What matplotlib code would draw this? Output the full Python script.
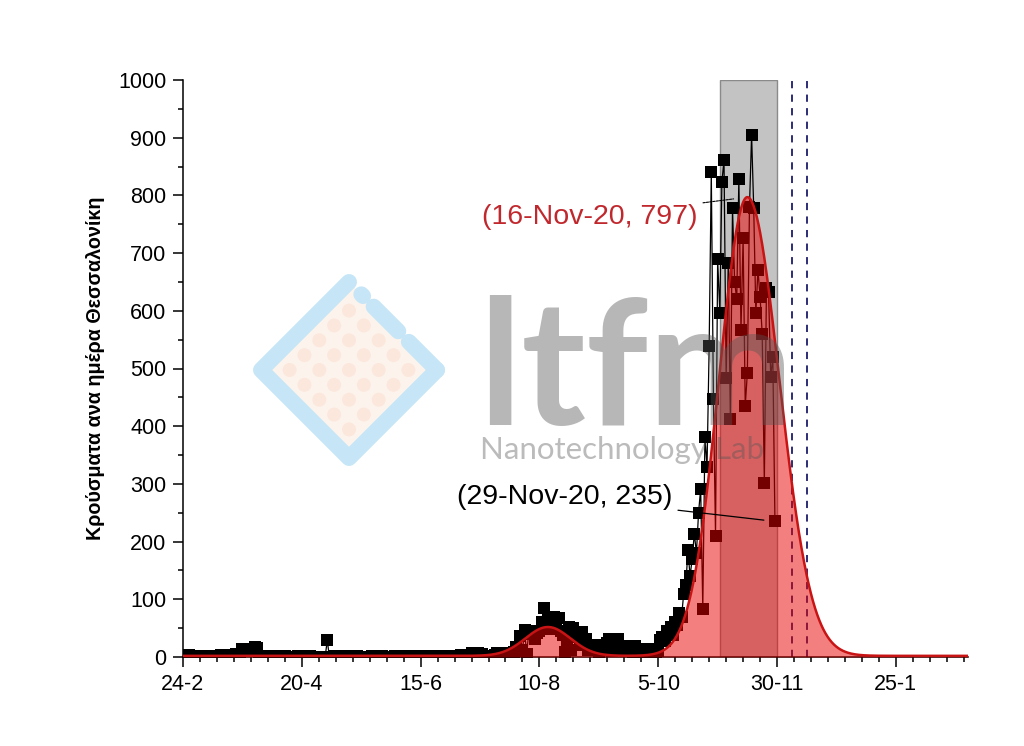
import numpy as np
import pandas as pd
import matplotlib
matplotlib.use('Agg')
import matplotlib.pyplot as plt
from matplotlib.patches import Polygon, Circle
from matplotlib.ticker import MultipleLocator

plt.rcParams['font.family'] = ['Liberation Sans', 'DejaVu Sans']

start = pd.Timestamp('2020-02-24')

# daily cases, Thessaloniki, 24 Feb -> 29 Nov 2020 (one value per day)
cases = (
    [2, 1, 2, 3, 2, 1, 2, 2, 0, 1, 0, 0, 1, 0, 1, 0, 1, 0,
     3, 2, 3, 4, 2, 3, 3, 6, 5, 6, 14, 12, 13, 14, 11, 13, 17, 16]
    + [1, 0, 0, 1, 0, 0, 0, 1, 0, 0, 0, 0, 1, 0, 0, 0, 0, 0, 1, 0,
       0, 0, 0, 0, 1, 0, 0, 0, 0, 0, 0, 0]
    + [29]
    + [0, 0, 1, 0, 0, 0, 0, 0, 1, 0, 0, 0, 0, 1, 0, 0, 0, 0, 0, 0,
       1, 0, 0, 0, 0, 1, 0, 0, 0, 0, 0, 1, 0, 0, 0, 0, 1, 0, 0, 1, 0, 1]
    + [1, 0, 1, 1, 0, 1, 1, 2, 1, 1, 1, 2, 1, 1, 2, 1, 2, 2, 1, 2]
    + [3, 2, 3, 2, 3, 7, 5, 6, 7, 4, 6, 2, 1, 2, 1, 2, 3]
    + [7, 3, 6, 7, 2, 5, 4, 3, 8, 17, 10, 36, 12, 46]
    + [5, 45, 40, 44, 32, 42, 45, 60, 85, 55, 69, 48, 66, 69, 52, 68, 45, 38]
    + [8, 30, 52, 12, 50, 35, 43, 20, 43, 25, 31, 12, 18, 15, 20, 18, 8, 16,
       12, 20, 25, 31, 10, 30, 22, 31, 15, 12]
    + [14, 10, 19, 17, 8, 19, 12, 10, 14, 9, 13, 14, 6, 12, 10, 8, 11]
    + [30, 35, 28, 45, 40, 52, 38, 60, 55, 76, 70, 110, 125, 185, 140, 170,
       214, 180, 250, 292, 83, 382, 330, 539, 840, 448, 209, 690, 596, 824,
       861, 483, 683, 412, 779, 650, 620, 828, 567, 726, 435, 492, 780, 905,
       778, 596, 671, 624, 560, 301, 640, 633, 486, 520, 235]
)

# BiGaussian peaks fitted in the original
fit_offset = 2
fit_centre = [172, 266]
fit_height = [50, 795]
fit_sig_left = [10.6, 13.3]
fit_sig_right = [10.6, 15.0]

tick_dates = ['2020-02-24', '2020-04-20', '2020-06-15', '2020-08-10',
              '2020-10-05', '2020-11-30', '2021-01-25']
lockdown = ['2020-11-03', '2020-11-30']
marks = ['2020-12-07', '2020-12-14']
peak_note = ('2020-11-16', 797)
last_note = ('2020-11-29', 235)


def day(s):
    return (pd.Timestamp(s) - start).days


days = np.arange(len(cases))
xfit = np.linspace(0, 370, 1500)
yfit = np.full_like(xfit, fit_offset, dtype=float)
for c, h, sl, sr in zip(fit_centre, fit_height, fit_sig_left, fit_sig_right):
    sig = np.where(xfit < c, sl, sr)
    yfit += h * np.exp(-(xfit - c) ** 2 / (2 * sig ** 2))

fig = plt.figure(figsize=(10.24, 7.46), dpi=100)
ax = fig.add_axes([183 / 1024, 89 / 746, 785 / 1024, 577 / 746])

ax.axvspan(day(lockdown[0]), day(lockdown[1]), facecolor='#c3c3c3',
           edgecolor='#8a8a8a', lw=1, zorder=0)
for m in marks:
    ax.axvline(day(m), color='#1c1c6b', lw=1.3, ls=(0, (4, 3.5)), zorder=1)

ax.plot(days, cases, color='black', lw=0.9, marker='s', ms=8, mew=0, zorder=2)
ax.fill_between(xfit, 0, yfit, color=(0.92, 0, 0), alpha=0.5, lw=0, zorder=3)
ax.plot(xfit, yfit, color='#c81414', lw=1.8, zorder=4)

pd_, pv = peak_note
ax.annotate('(%s, %d)' % (pd.Timestamp(pd_).strftime('%d-%b-%y'), pv),
            xy=(day(pd_), pv), xytext=(242.5, 762), ha='right', va='center',
            fontsize=20.5, color='#c0282d', zorder=6,
            arrowprops=dict(arrowstyle='-', color='black', lw=0.8,
                            ls=(0, (2, 1)), shrinkA=2, shrinkB=10))
ld, lv = last_note
ax.annotate('(%s, %d)' % (pd.Timestamp(ld).strftime('%d-%b-%y'), lv),
            xy=(day(ld), lv), xytext=(230.7, 277), ha='right', va='center',
            fontsize=20.5, color='black', zorder=6,
            arrowprops=dict(arrowstyle='-', color='black', lw=0.9,
                            shrinkA=2, shrinkB=8))

ax.set_xlim(0, 370)
ax.set_ylim(0, 1000)
ticks = pd.to_datetime(tick_dates)
ax.set_xticks([day(t) for t in ticks])
ax.set_xticklabels(['%d-%d' % (t.day, t.month) for t in ticks])
ax.xaxis.set_minor_locator(MultipleLocator(8))
ax.yaxis.set_major_locator(MultipleLocator(100))
ax.yaxis.set_minor_locator(MultipleLocator(50))
for s in ['top', 'right']:
    ax.spines[s].set_visible(False)
for s in ['left', 'bottom']:
    ax.spines[s].set_linewidth(1.1)
ax.tick_params(which='major', length=7, width=1.1, labelsize=15.5, pad=5)
ax.tick_params(which='minor', length=3.5, width=1.1)
ax.set_ylabel('Κρούσματα ανα ημέρα Θεσσαλονίκη', fontsize=14.2, fontweight='bold')
ax.yaxis.set_label_coords(-0.099, 0.5)

# watermark, drawn in pixel coordinates on top
wm = fig.add_axes([0, 0, 1, 1], zorder=5)
wm.set_xlim(0, 1024)
wm.set_ylim(746, 0)
wm.axis('off')
cx, cy, r = 349, 370, 88
wm.add_patch(Polygon([(cx, cy - r), (cx + r, cy), (cx, cy + r), (cx - r, cy)],
                     closed=True, facecolor='#fdf2ea', edgecolor='none', alpha=0.85))
for i in range(-3, 4):
    for j in range(-3, 4):
        u, v = i * 21, j * 21
        px, py = cx + (u - v) * 0.7071, cy + (u + v) * 0.7071
        if abs(px - cx) + abs(py - cy) < r - 14:
            wm.add_patch(Circle((px, py), 7, facecolor='#f7cdb6', edgecolor='none', alpha=0.3))
blue = '#c6e6f7'
wm.plot([cx + r, cx, cx - r, cx], [cy, cy + r, cy, cy - r], color=blue, lw=11.5,
        solid_capstyle='round', solid_joinstyle='round')
for a, b in [(0.14, 0.16), (0.28, 0.56), (0.68, 1.0)]:
    wm.plot([cx + a * r, cx + b * r], [cy - r + a * r, cy - r + b * r], color=blue,
            lw=11.5, solid_capstyle='round')
wm.text(478, 425, 'ltfm', fontsize=125, fontweight='bold', color='#555555', alpha=0.42,
        family='Lato', va='baseline', ha='left')
wm.text(480, 459, 'Nanotechnology Lab', fontsize=22.5, color='#555555', alpha=0.4,
        family='Lato', va='baseline', ha='left')

fig.savefig('out.png', dpi=100)
